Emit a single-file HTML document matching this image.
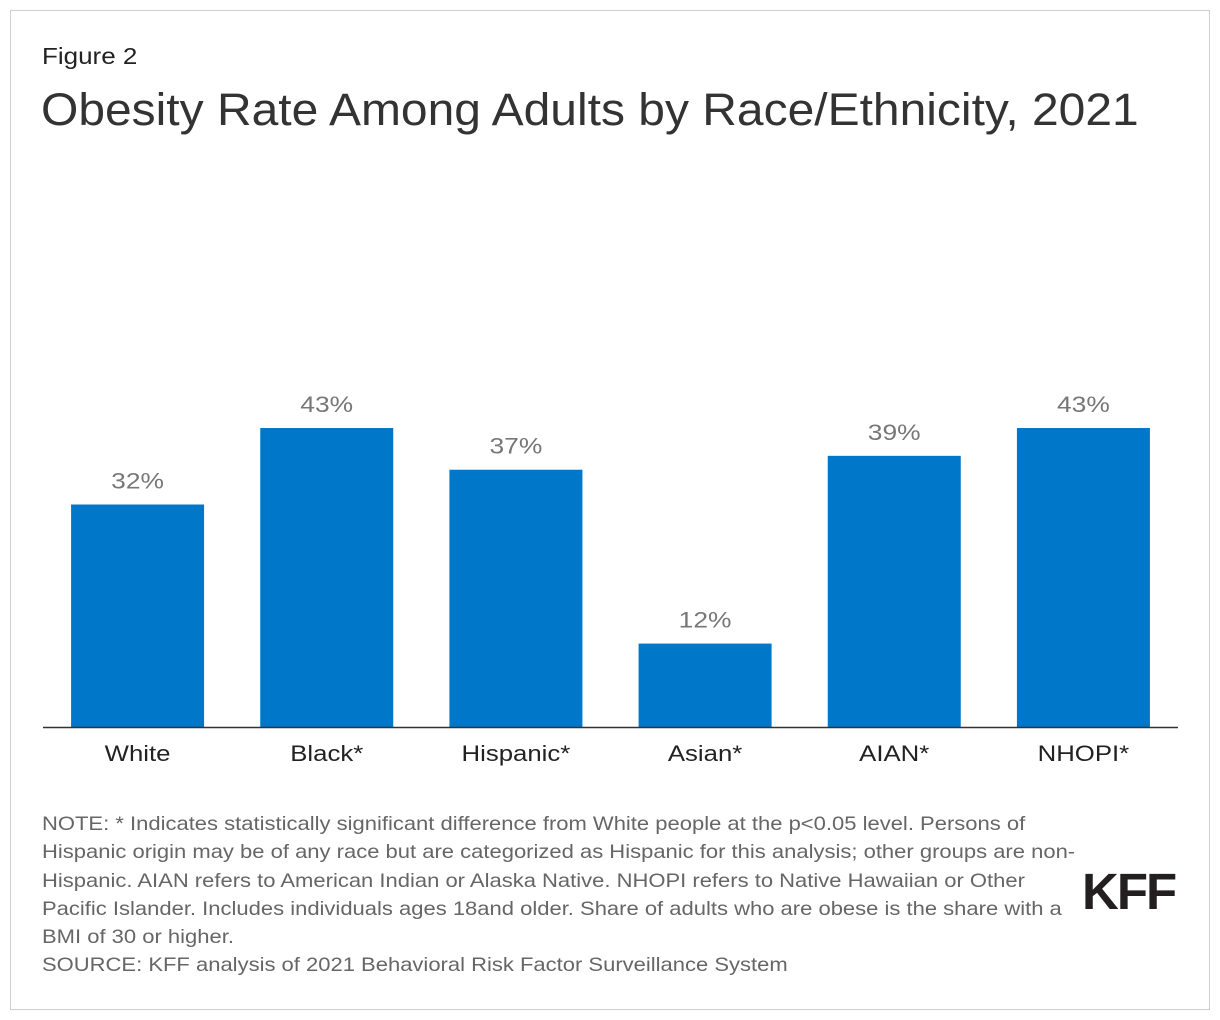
<!DOCTYPE html>
<html><head><meta charset="utf-8"><style>
body{margin:0;width:1220px;height:1020px;background:#fff;font-family:"Liberation Sans",sans-serif;position:relative;overflow:hidden}
.frame{position:absolute;left:10px;top:10px;width:1198px;height:998px;border:1px solid #cfcfcf}
.t{position:absolute;white-space:nowrap;transform-origin:0 0}
</style></head><body>
<div class="frame"></div>
<div class="t" style="left:42px;top:43px;font-size:23px;color:#222;transform:scaleX(1.13)">Figure 2</div>
<div class="t" style="left:41px;top:84px;font-size:45px;color:#333;transform:scaleX(1.066)">Obesity Rate Among Adults by Race/Ethnicity, 2021</div>
<svg id="chart" style="position:absolute;left:0;top:0" width="1220" height="800"></svg>
<div class="t" style="left:42px;top:810px;font-size:19.5px;line-height:28.3px;color:#666;transform:scaleX(1.128)">NOTE: * Indicates statistically significant difference from White people at the p&lt;0.05 level. Persons of<br>Hispanic origin may be of any race but are categorized as Hispanic for this analysis; other groups are non-<br>Hispanic. AIAN refers to American Indian or Alaska Native. NHOPI refers to Native Hawaiian or Other<br>Pacific Islander. Includes individuals ages 18and older. Share of adults who are obese is the share with a<br>BMI of 30 or higher.<br>SOURCE: KFF analysis of 2021 Behavioral Risk Factor Surveillance System</div>
<div class="t" style="left:1082px;top:862px;font-size:51px;font-weight:bold;letter-spacing:-2px;color:#231f20">KFF</div>
<script>
const categories=["White","Black*","Hispanic*","Asian*","AIAN*","NHOPI*"];
const values=[32,43,37,12,39,43];
const valueLabels=["32%","43%","37%","12%","39%","43%"];
const svg=document.getElementById('chart');
const NS='http://www.w3.org/2000/svg';
const x0=43,x1=1178,base=727,pxPer=6.953;
const band=(x1-x0)/categories.length,bw=133;
const y=v=>base-v*pxPer;
function mk(t,a){const e=document.createElementNS(NS,t);for(const k in a)e.setAttribute(k,a[k]);svg.appendChild(e);return e;}
function stretch(el,f){const w=el.getComputedTextLength();el.setAttribute('textLength',w*f);el.setAttribute('lengthAdjust','spacingAndGlyphs');}
categories.forEach((c,i)=>{
 const cx=x0+band*(i+0.5);
 const r=mk('rect',{x:cx-bw/2,y:y(values[i]),width:bw,height:base-y(values[i]),fill:'#0077c8'});
 
 
 const vl=mk('text',{x:cx,y:y(values[i])-16,'text-anchor':'middle','font-size':22,fill:'#777','font-family':'Liberation Sans'});
 vl.textContent=valueLabels[i];
 
 
 stretch(vl,1.2);
 const cl=mk('text',{x:cx,y:761,'text-anchor':'middle','font-size':22,fill:'#222','font-family':'Liberation Sans'});
 cl.textContent=c;
 
 
 stretch(cl,1.17);
});
const ax=mk('line',{x1:x0,x2:x1,y1:base+0.5,y2:base+0.5,stroke:'#333','stroke-width':1.5});


</script>
</body></html>
